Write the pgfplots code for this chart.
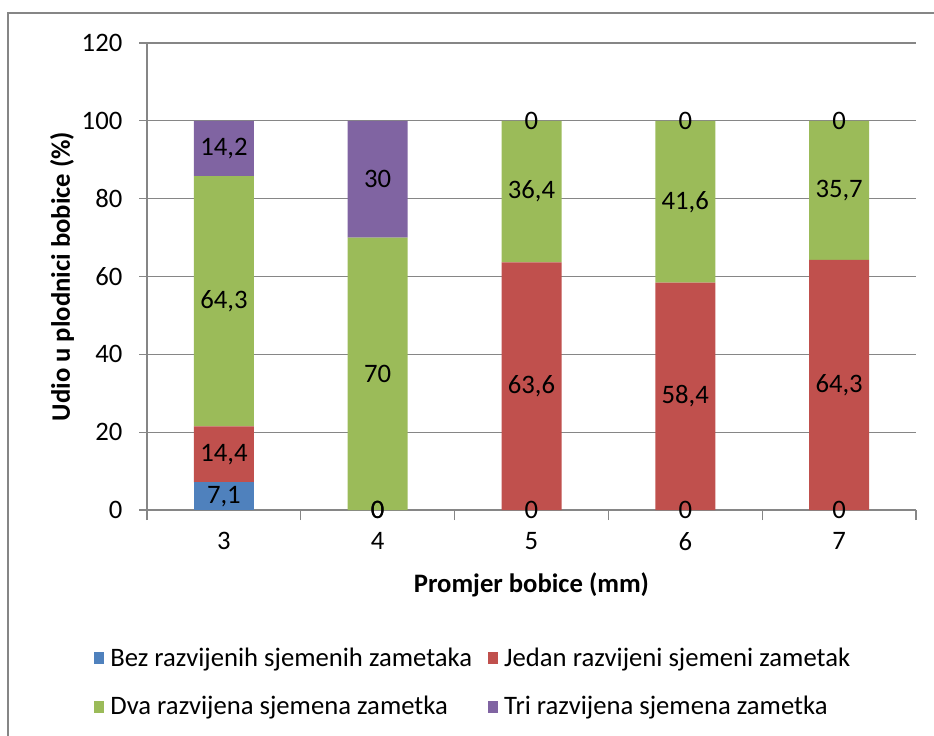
\documentclass[border=0pt]{standalone}
\usepackage{fontspec}
\setmainfont{Carlito}
\usepackage{pgfplots}
\pgfplotsset{compat=1.18}
\definecolor{cBez}{HTML}{4F81BD}
\definecolor{cJed}{HTML}{C0504D}
\definecolor{cDva}{HTML}{9BBB59}
\definecolor{cTri}{HTML}{8064A2}
\definecolor{gridc}{HTML}{868686}
\newcommand{\fs}{\fontsize{20}{24}\selectfont}
\pgfplotsset{
  common/.style={
    at={(110.25pt,168.75pt)}, anchor=south west,
    scale only axis, width=576.75pt, height=350.25pt,
    xmin=0.5, xmax=5.5, ymin=0, ymax=120,
  }
}
\begin{document}
\begin{tikzpicture}
\useasboundingbox (0,0) rectangle (700.5pt,551.25pt);
\draw[gridc, line width=1.5pt] (6pt,-2pt) -- (6pt,541.5pt) -- (703pt,541.5pt);
\begin{axis}[
  common,
  ybar stacked, bar width=45pt,
  xtick={1,...,5}, xticklabels={3,4,5,6,7},
  ytick={0,20,...,120},
  minor xtick={0.5,1.5,...,5.5},
  axis line style={gridc, line width=0.8pt},
  axis x line*=bottom, axis y line*=left,
  ymajorgrids, grid style={gridc, line width=0.8pt},
  major x tick style={draw=none},
  minor x tick style={gridc, line width=0.8pt}, minor tick length=7.5pt,
  major y tick style={gridc, line width=0.8pt}, major tick length=6pt,
  tick align=outside,
  tick label style={font=\fs, text=black},
  xticklabel style={yshift=-7pt},
  yticklabel style={xshift=-9pt},
  /pgf/number format/assume math mode=true,
  ylabel={Udio u plodnici bobice (\%)},
  ylabel style={font=\fs\bfseries, at={(axis description cs:-0.1105,0.5)}, anchor=center},
  xlabel={Promjer bobice (mm)},
  xlabel style={font=\fs\bfseries, at={(axis description cs:0.5,-0.1606)}, anchor=center},
  legend style={at={(axis description cs:-0.074,-0.283)}, anchor=north west,
    draw=none, fill=none, font=\fs, legend columns=2,
    /tikz/every odd column/.append style={column sep=3pt},
    /tikz/every even column/.append style={column sep=10pt},
    row sep=17pt, legend cell align=left},
  legend image code/.code={\path[#1, draw=none] (0pt,-4.5pt) rectangle (7pt,4.5pt);},
]
\addplot[fill=cBez, draw=none] coordinates {(1,7.1) (2,0) (3,0) (4,0) (5,0)};
\addlegendentry{Bez razvijenih sjemenih zametaka}
\addplot[fill=cJed, draw=none] coordinates {(1,14.4) (2,0) (3,63.6) (4,58.4) (5,64.3)};
\addlegendentry{Jedan razvijeni sjemeni zametak}
\addplot[fill=cDva, draw=none] coordinates {(1,64.3) (2,70) (3,36.4) (4,41.6) (5,35.7)};
\addlegendentry{Dva razvijena sjemena zametka}
\addplot[fill=cTri, draw=none] coordinates {(1,14.2) (2,30) (3,0) (4,0) (5,0)};
\addlegendentry{Tri razvijena sjemena zametka}
\end{axis}
\begin{axis}[
  common, hide axis,
  nodes near coords align={center},
  every node near coord/.append style={font=\fs, text=black, anchor=center},
]
\addplot[draw=none, mark=none, nodes near coords, point meta=explicit symbolic]
 coordinates {(1,3.55)[7,1] (2,0)[0] (3,0)[0] (4,0)[0] (5,0)[0]};
\addplot[draw=none, mark=none, nodes near coords, point meta=explicit symbolic]
 coordinates {(1,14.3)[14,4] (2,0)[0] (3,31.8)[63,6] (4,29.2)[58,4] (5,32.15)[64,3]};
\addplot[draw=none, mark=none, nodes near coords, point meta=explicit symbolic]
 coordinates {(1,53.65)[64,3] (2,35)[70] (3,81.8)[36,4] (4,79.2)[41,6] (5,82.15)[35,7]};
\addplot[draw=none, mark=none, nodes near coords, point meta=explicit symbolic]
 coordinates {(1,92.9)[14,2] (2,85)[30] (3,100)[0] (4,100)[0] (5,100)[0]};
\end{axis}
\end{tikzpicture}
\end{document}
